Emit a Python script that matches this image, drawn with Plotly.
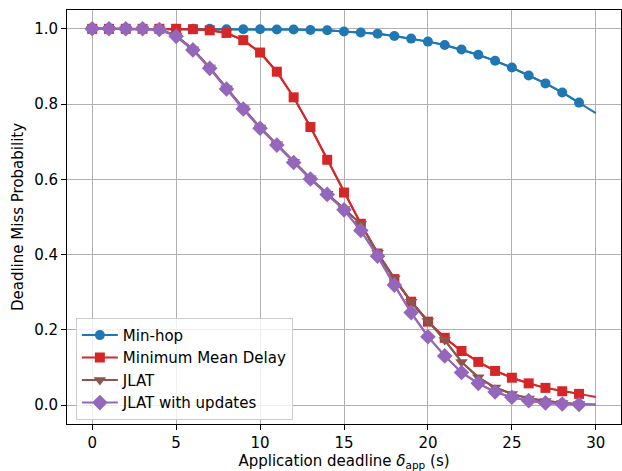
import plotly.graph_objects as go

x = list(range(0, 31))

min_hop = [1.0, 1.0, 1.0, 1.0, 1.0, 1.0, 1.0, 1.0, 0.999, 0.999, 0.999, 0.998, 0.998, 0.997, 0.996,
           0.993, 0.990, 0.987, 0.981, 0.974, 0.966, 0.957, 0.945, 0.931, 0.915, 0.897, 0.876,
           0.855, 0.831, 0.804, 0.776]
min_mean_delay = [1.0, 1.0, 1.0, 1.0, 1.0, 1.0, 0.999, 0.996, 0.989, 0.970, 0.937, 0.886, 0.818,
                  0.739, 0.652, 0.565, 0.482, 0.403, 0.335, 0.275, 0.222, 0.179, 0.144, 0.115,
                  0.091, 0.073, 0.058, 0.046, 0.037, 0.030, 0.022]
jlat = [1.0, 1.0, 1.0, 1.0, 0.999, 0.982, 0.946, 0.897, 0.842, 0.789, 0.738, 0.693, 0.647,
        0.603, 0.562, 0.521, 0.482, 0.405, 0.337, 0.275, 0.224, 0.173, 0.115, 0.074, 0.047,
        0.030, 0.018, 0.011, 0.006, 0.003, 0.002]
jlat_updates = [1.0, 1.0, 1.0, 1.0, 0.998, 0.980, 0.944, 0.895, 0.840, 0.787, 0.736, 0.691,
                0.645, 0.601, 0.560, 0.519, 0.464, 0.396, 0.319, 0.246, 0.182, 0.131, 0.087,
                0.058, 0.035, 0.021, 0.012, 0.006, 0.003, 0.002, 0.001]

series = [
    ("Min-hop", min_hop, "#1f77b4", "circle", 10),
    ("Minimum Mean Delay", min_mean_delay, "#d62728", "square", 10),
    ("JLAT", jlat, "#8c564b", "triangle-down", 11),
    ("JLAT with updates", jlat_updates, "#9467bd", "diamond", 12),
]

FS = 15

fig = go.Figure()
for name, ys, color, sym, size in series:
    # line over the full range (last point has no marker)
    fig.add_trace(go.Scatter(
        x=x, y=ys, mode="lines", name=name,
        line=dict(color=color, width=2),
        showlegend=False, hoverinfo="skip",
    ))
    # markers for 0..29
    fig.add_trace(go.Scatter(
        x=x[:-1], y=ys[:-1], mode="lines+markers", name=name,
        line=dict(color=color, width=2),
        marker=dict(symbol=sym, size=size, color=color),
    ))

axis_common = dict(
    showline=True, linecolor="black", linewidth=1, mirror=True,
    ticks="outside", ticklen=5, tickcolor="black", tickwidth=1,
    showgrid=True, gridcolor="#b0b0b0", gridwidth=1, zeroline=False,
    tickfont=dict(family="DejaVu Sans", size=FS, color="black"),
)

fig.update_layout(
    width=622, height=471,
    margin=dict(l=67, r=1, t=10, b=47),
    plot_bgcolor="white", paper_bgcolor="white",
    font=dict(family="DejaVu Sans", size=FS, color="black"),
    xaxis=dict(range=[-1.5, 31.5], tickvals=[0, 5, 10, 15, 20, 25, 30],
               title=dict(text="Application deadline <i>δ</i><sub>app</sub> (s)",
                          font=dict(size=FS), standoff=4),
               **axis_common),
    yaxis=dict(range=[-0.05, 1.05], tickvals=[0, 0.2, 0.4, 0.6, 0.8, 1.0], tickformat=".1f",
               title=dict(text="Deadline Miss Probability", font=dict(size=FS), standoff=6),
               **axis_common),
    legend=dict(x=0.016, y=0.01, xanchor="left", yanchor="bottom",
                bgcolor="rgba(255,255,255,0.8)", bordercolor="#cccccc", borderwidth=1,
                font=dict(size=FS), itemwidth=36, tracegroupgap=0),
)

fig.write_html("out.html")
